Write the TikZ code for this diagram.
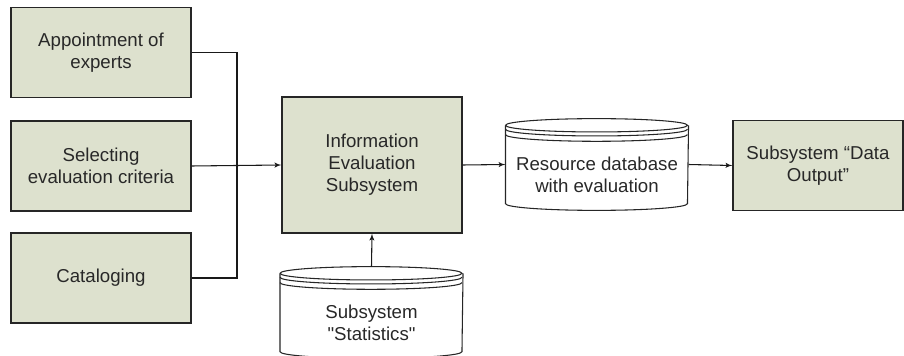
\documentclass[tikz,border=0pt]{standalone}
\usepackage{fontspec}
\setmainfont{Liberation Sans}[Ligatures=TeXOff]
\usepackage{tikz}
\usetikzlibrary{arrows}

\definecolor{boxfill}{RGB}{221,225,206}
\definecolor{inktext}{RGB}{40,40,40}

% database drum drawn round an (invisible) node
\newcommand{\dbdrum}[1]{%
\path (#1.north west) ++(0,-5pt) coordinate (#1-tl);
\draw[drum] (#1-tl) arc[start angle=180,end angle=-180,x radius=68.25pt,y radius=5pt];
\draw[drum] ([yshift=-3pt]#1-tl) arc[start angle=180,end angle=360,x radius=68.25pt,y radius=5pt];
\draw[drum] ([yshift=-7pt]#1-tl) arc[start angle=180,end angle=360,x radius=68.25pt,y radius=5pt];
\draw[drum] (#1-tl) -- ([yshift=5pt]#1.south west)
  arc[start angle=180,end angle=360,x radius=68.25pt,y radius=5pt]
  -- ([yshift=-5pt]#1.north east);
}

\begin{document}
\begin{tikzpicture}[x=0.75pt,y=-0.75pt,thick]
\tikzstyle{block} = [rectangle, draw=black!85, line width=0.9pt, fill=boxfill,
text=inktext, align=center, font=\fontsize{14}{16.5}\selectfont,
minimum width=135pt, minimum height=67.5pt, inner sep=0]
\tikzstyle{dbbox} = [rectangle, minimum width=136.5pt, minimum height=68pt, inner sep=0]
\tikzstyle{dbtext} = [text=inktext, align=center, font=\fontsize{14}{16.5}\selectfont]
\tikzstyle{drum} = [draw=black!85, line width=0.8pt]
\tikzstyle{line} = [draw, line width=0.8pt, black!90]
\tikzstyle{arrow} = [line, -latex']
\useasboundingbox (0,0) rectangle (904,356);

% inputs
\node [block] (appt) at (101,52.5) {Appointment of\\experts};
\node [block] (sel) at (101,166) {Selecting\\evaluation criteria};
\node [block] (cat) at (101,278) {Cataloging};

% core
\node [block, minimum height=102pt] (info) at (372,165) {Information\\Evaluation\\Subsystem};
\node [dbbox] (res) at (597,164.5) {};
\dbdrum{res}
\node [dbtext] at ([yshift=-8pt]res.center) {Resource database\\with evaluation};
\node [block, minimum width=127.5pt, minimum height=68pt] (out) at (818,165.5) {Subsystem “Data\\Output”};
\node [dbbox] (stat) at (371.5,312.5) {};
\dbdrum{stat}
\node [dbtext] at ([yshift=-7.5pt]stat.center) {Subsystem\\"Statistics"};

\coordinate (join) at (237,166);
\path [line] (appt.east) -| (join);
\path [line] (cat.east) -| (join);
\path [arrow] (sel.east) -- (info.west);
\path [arrow] (info.east) -- (res.west);
\path [arrow] (res.east) -- (out.west);
\path [arrow] (stat.north) -- (info.south);
\end{tikzpicture}
\end{document}
